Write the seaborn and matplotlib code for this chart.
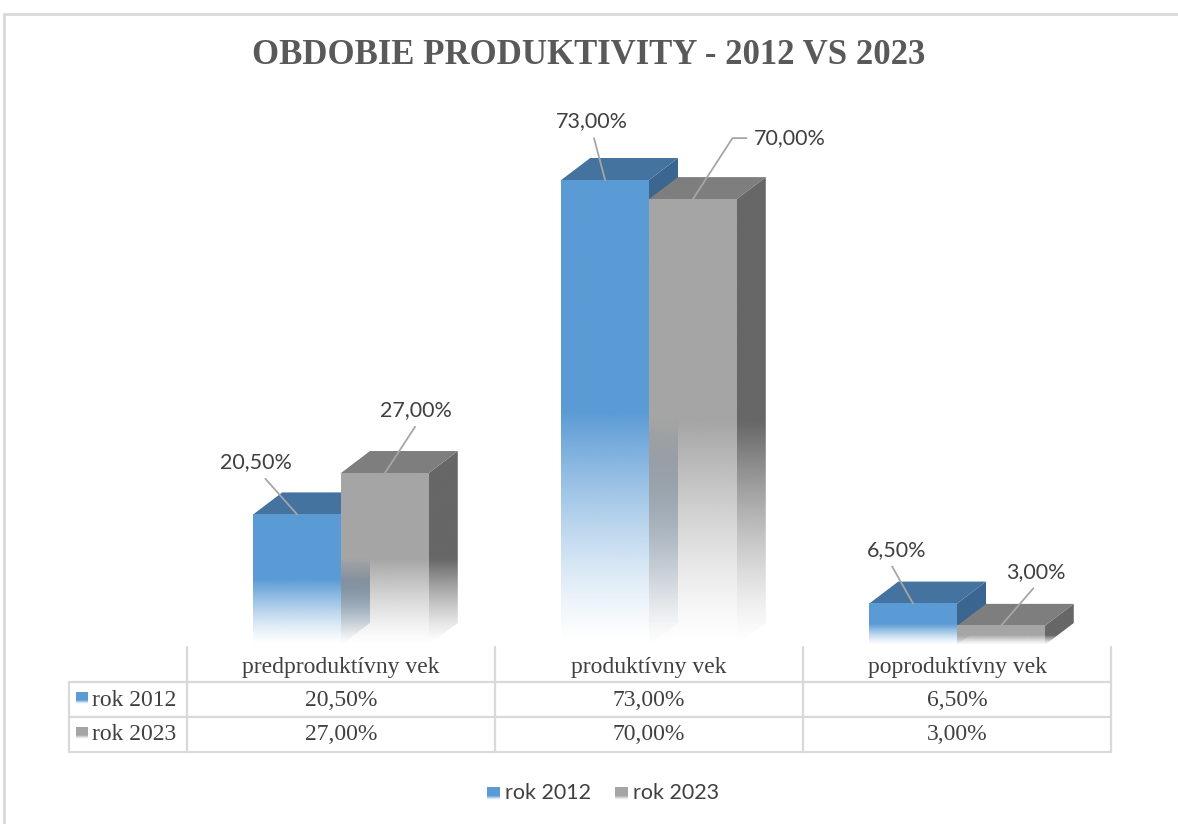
import numpy as np
import pandas as pd
import matplotlib
matplotlib.use("Agg")
import matplotlib.pyplot as plt
import seaborn as sns
from matplotlib.patches import Polygon
from matplotlib.lines import Line2D
import matplotlib.transforms as mtransforms

#### DATA ####
kategorie = ['predproduktívny vek', 'produktívny vek', 'poproduktívny vek']
roky = ['rok 2012', 'rok 2023']
hodnoty_2012 = [20.5, 73.0, 6.5]
hodnoty_2023 = [27.0, 70.0, 3.0]
nadpis = 'OBDOBIE PRODUKTIVITY - 2012 VS 2023'

def fmt(v):
    return f'{v:.2f}'.replace('.', ',') + '%'

df = pd.DataFrame({
    'kategoria': kategorie * 2,
    'rok': [roky[0]] * 3 + [roky[1]] * 3,
    'hodnota': hodnoty_2012 + hodnoty_2023,
})

#### STYLE ####
W, H = 1178, 824
farby = {'rok 2012': dict(front='#5B9BD5', top='#44739F', side='#3A6690'),
         'rok 2023': dict(front='#A5A5A5', top='#7E7E7E', side='#676767')}
text_col = '#404040'
line_col = '#D9D9D9'
depth_px = (29, 22)
# label offsets (pixels) and arrow start point on the text box
label_style = [
    dict(off=(-41, 52), relpos=(0.55, 0.0)),
    dict(off=(31, 63), relpos=(0.55, 0.0)),
    dict(off=(-13, 59), relpos=(0.5, 0.0)),
    dict(off=(97, 61), relpos=(0.0, 0.5), elbow=True),
    dict(off=(-16, 54), relpos=(0.35, 0.0)),
    dict(off=(35, 54), relpos=(0.55, 0.0)),
]

sns.set_theme(style='white')
plt.rcParams['font.family'] = ['Lato', 'DejaVu Sans']

def fx(px):
    return px / W

def fy(py):
    return 1 - py / H

fig = plt.figure(figsize=(W / 100, H / 100), dpi=100)
fig.patch.set_facecolor('white')
ax = fig.add_axes([fx(187), fy(645), (1111 - 187) / W, 80 * (465 / 73) / H])

sns.barplot(data=df, x='kategoria', y='hodnota', hue='rok', hue_order=roky,
            order=kategorie, width=0.57, palette=[farby[r]['front'] for r in roky],
            legend=False, ax=ax)
ax.set_xlim(-0.5, 2.5)
ax.set_ylim(0, 80)
ax.set_autoscale_on(False)
ax.axis('off')

# depth offset in data units
p0 = ax.transData.transform((0, 0))
dxy = ax.transData.inverted().transform(p0 + np.array(depth_px))
ddx, ddy = dxy[0], dxy[1]

def grad_rgba(color, n, fracs):
    rgb = matplotlib.colors.to_rgb(color)
    a = np.clip(fracs / 0.5, 0, 1) ** 1.3
    arr = np.zeros((n, 1, 4))
    arr[:, 0, :3] = rgb
    arr[:, 0, 3] = a
    return arr

n = 256
bars_info = []
for hi, cont in enumerate(ax.containers):
    r = roky[hi]
    base_z = 2 + hi
    for ci, bar in enumerate(cont):
        x, w, h = bar.get_x(), bar.get_width(), bar.get_height()
        bar.set_visible(False)
        # side face
        side = Polygon([(x + w, 0), (x + w + ddx, ddy), (x + w + ddx, h + ddy), (x + w, h)],
                       closed=True, facecolor='none', edgecolor='none')
        ax.add_patch(side)
        ys = np.linspace(0, h + ddy, n)
        im = ax.imshow(grad_rgba(farby[r]['side'], n, ys / h), origin='lower',
                       extent=(x + w, x + w + ddx, 0, h + ddy), aspect='auto',
                       interpolation='bilinear', zorder=base_z)
        im.set_clip_path(side)
        # top face
        ax.add_patch(Polygon([(x, h), (x + ddx, h + ddy), (x + w + ddx, h + ddy), (x + w, h)],
                             closed=True, facecolor=farby[r]['top'], edgecolor='none',
                             zorder=base_z + 0.1))
        # front face
        ax.imshow(grad_rgba(farby[r]['front'], n, np.linspace(0, 1, n)), origin='lower',
                  extent=(x, x + w, 0, h), aspect='auto', interpolation='bilinear',
                  zorder=base_z + 0.2)
        bars_info.append((ci, hi, x + w / 2, h))

# data labels, Excel-like order: per category, 2012 then 2023
bars_info.sort()
for k, (ci, hi, xc, h) in enumerate(bars_info):
    st = label_style[k]
    cs = 'angle,angleA=0,angleB=57,rad=0' if st.get('elbow') else 'arc3'
    ax.annotate(fmt(h), xy=(xc, h), xytext=st['off'], textcoords='offset pixels',
                ha='center', va='center', fontsize=15.5, color=text_col,
                annotation_clip=False, zorder=10,
                arrowprops=dict(arrowstyle='-', color='#A6A6A6', lw=1.3,
                                relpos=st['relpos'], shrinkA=3, shrinkB=0,
                                connectionstyle=cs))

# title
fig.text(0.5, fy(55), nadpis, ha='center', va='center', fontsize=25,
         fontweight='bold', color='#595959', family='Liberation Serif')

# outer chart border
fig.add_artist(Line2D([fx(4), 1], [fy(14), fy(14)], color=line_col, lw=2))
fig.add_artist(Line2D([fx(4), fx(4)], [fy(14), 0], color=line_col, lw=2))

# data table
tl = dict(color=line_col, lw=1.6)
for yy in [682, 717, 752]:
    fig.add_artist(Line2D([fx(69), fx(1111)], [fy(yy), fy(yy)], **tl))
fig.add_artist(Line2D([fx(69), fx(69)], [fy(682), fy(752)], **tl))
blend = mtransforms.blended_transform_factory(ax.transData, fig.transFigure)
for xv in [-0.5, 0.5, 1.5, 2.5]:
    fig.add_artist(Line2D([xv, xv], [fy(647), fy(752)], transform=blend, **tl))

row_y = [700, 735]
serif = 'Liberation Serif'
fs_tab = 17
for ci, kat in enumerate(kategorie):
    fig.text(ci, fy(668), kat, transform=blend, ha='center', va='center',
             fontsize=fs_tab, color=text_col, family=serif)
    fig.text(ci, fy(row_y[0]), fmt(hodnoty_2012[ci]), transform=blend, ha='center',
             va='center', fontsize=fs_tab, color=text_col, family=serif)
    fig.text(ci, fy(row_y[1]), fmt(hodnoty_2023[ci]), transform=blend, ha='center',
             va='center', fontsize=fs_tab, color=text_col, family=serif)

def marker(px, py, color, s=12):
    mx = fig.add_axes([fx(px), fy(py + s), s / W, s / H])
    g = np.linspace(0, 1, 32)
    mx.imshow(grad_rgba(color, 32, g * 1.6), origin='lower', aspect='auto',
              extent=(0, 1, 0, 1), interpolation='bilinear')
    mx.axis('off')

for ri, r in enumerate(roky):
    marker(76, row_y[ri] - 8, farby[r]['front'])
    fig.text(fx(92), fy(row_y[ri]), r, ha='left', va='center', fontsize=fs_tab,
             color=text_col, family=serif)

# legend
leg_x = [487, 615]
for ri, r in enumerate(roky):
    marker(leg_x[ri], 787, farby[r]['front'], s=13)
    fig.text(fx(leg_x[ri] + 18), fy(793), r, ha='left', va='center', fontsize=15.5,
             color=text_col)

fig.savefig('out.png', dpi=100, facecolor='white')
